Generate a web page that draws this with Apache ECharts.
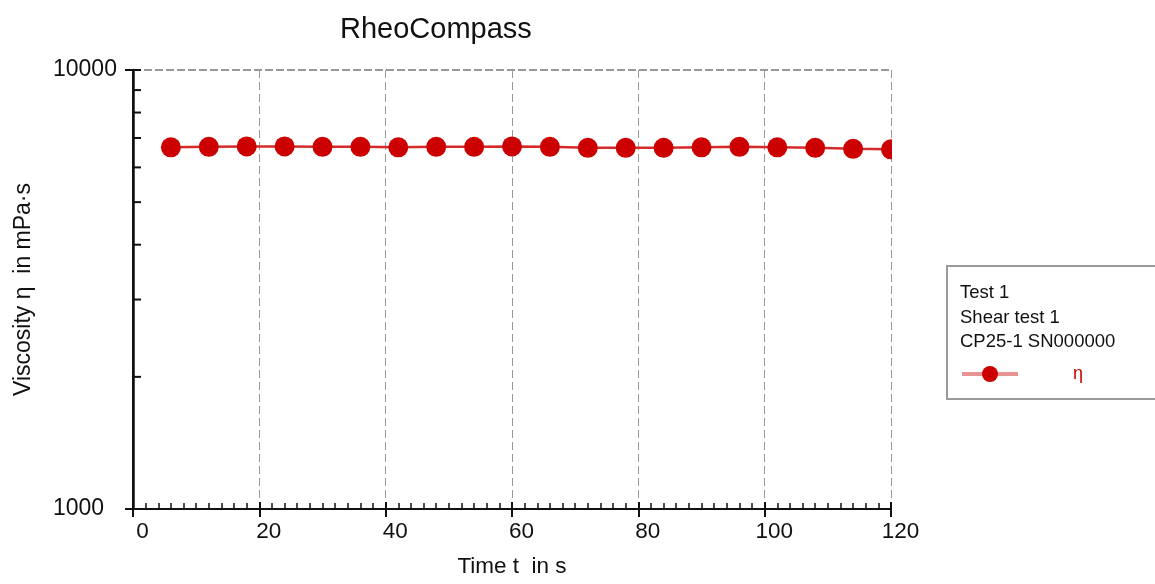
<!DOCTYPE html>
<html>
<head>
<meta charset="utf-8">
<script src="https://cdn.jsdelivr.net/npm/echarts@6/dist/echarts.min.js"></script>
<style>
  html, body { margin: 0; padding: 0; background: #fff; }
  #chart { width: 1155px; height: 584px; }
</style>
</head>
<body>
<div id="chart"></div>
<script>
// time in s
const times = [6, 12, 18, 24, 30, 36, 42, 48, 54, 60, 66, 72, 78, 84, 90, 96, 102, 108, 114, 120];
// viscosity in mPa·s
const viscosity = [6665, 6682, 6699, 6699, 6682, 6682, 6665, 6682, 6682, 6699,
                   6682, 6647, 6647, 6647, 6665, 6682, 6665, 6647, 6612, 6595];
// y tick positions (log axis, 1 decade)
const yTickValues = [1000, 2000, 3000, 4000, 5000, 6000, 7000, 8000, 9000, 10000];
const legendLines = ['Test 1', 'Shear test 1', 'CP25-1 SN000000'];

const FONT = 'Liberation Sans, Arial, sans-serif';
const INK = '#111';

let myChart = echarts.init(document.getElementById('chart'));
myChart.setOption({
    animation: false,
    textStyle: { fontFamily: FONT, color: INK },
    title: {
        text: 'RheoCompass',
        left: 335, top: 10,
        textStyle: { fontFamily: FONT, fontSize: 29, fontWeight: 'normal', color: INK }
    },
    legend: {
        data: ['η'],
        left: 955, top: 360,
        itemWidth: 56, itemHeight: 20,
        lineStyle: { width: 4, color: 'rgba(214, 60, 60, 0.55)' },
        textStyle: { fontFamily: FONT, fontSize: 18, color: '#cc0000', padding: [0, 0, 0, 50] }
    },
    grid: { left: 133, right: 264, top: 70, bottom: 75 },
    xAxis: [
        {
            type: 'value', min: 0, max: 120, interval: 20,
            name: 'Time t  in s', nameLocation: 'middle', nameGap: 46,
            nameTextStyle: { fontFamily: FONT, fontSize: 22.5, color: INK },
            axisLine: { onZero: false, lineStyle: { color: INK, width: 2 } },
            axisTick: { inside: true, length: 7, lineStyle: { color: INK, width: 2 } },
            minorTick: { show: true, splitNumber: 10, length: 6, lineStyle: { color: INK, width: 1.5 } },
            axisLabel: { fontFamily: FONT, fontSize: 22.5, color: INK, margin: 11, padding: [0, 0, 0, 19] },
            splitLine: { show: true, lineStyle: { color: '#9a9a9a', type: [8, 4], width: 1 } }
        },
        {
            // outside half of the major x ticks
            type: 'value', min: 0, max: 120, interval: 20, position: 'bottom',
            axisLine: { show: false },
            axisTick: { length: 8, lineStyle: { color: INK, width: 2 } },
            axisLabel: { show: false },
            splitLine: { show: false }
        }
    ],
    yAxis: [
        {
            type: 'log', logBase: 10, min: 1000, max: 10000,
            name: 'Viscosity η  in mPa·s', nameLocation: 'middle', nameGap: 98,
            nameTextStyle: { fontFamily: FONT, fontSize: 23, color: INK },
            axisLine: { lineStyle: { color: INK, width: 2 } },
            axisTick: { length: 8, lineStyle: { color: INK, width: 2 } },
            axisLabel: {
                fontFamily: FONT, fontSize: 23, color: INK, margin: 80, align: 'left',
                padding: [5, 0, 0, 0],
                formatter: v => String(v)
            },
            splitLine: { show: true, lineStyle: { color: '#777', type: [8, 3], width: 1.5 } }
        },
        {
            // right frame line
            type: 'log', logBase: 10, min: 1000, max: 10000, position: 'right',
            axisLine: { lineStyle: { color: INK, width: 2.5 } },
            axisTick: { show: false },
            axisLabel: { show: false },
            splitLine: { show: false }
        }
    ],
    graphic: [
        {
            // legend frame
            type: 'rect', left: 946, top: 265, z: 0,
            shape: { width: 230, height: 133 },
            style: { fill: '#fff', stroke: '#9a9a9a', lineWidth: 2 }
        },
        {
            type: 'text', left: 960, top: 281, z: 1,
            style: { text: legendLines.join('\n'), font: '18.5px ' + FONT, fill: INK, lineHeight: 24.5 }
        },
        {
            // clip the half of the last marker beyond the frame
            type: 'rect', left: 892, top: 120, z: 100,
            shape: { width: 40, height: 60 },
            style: { fill: '#fff' }
        }
    ],
    series: [
        {
            name: 'η',
            type: 'line',
            data: times.map((t, i) => [t, viscosity[i]]),
            symbol: 'circle',
            symbolSize: 20,
            itemStyle: { color: '#cc0000' },
            lineStyle: { color: '#d42a2a', width: 2.5 },
            z: 3
        },
        {
            // inside ticks of the y axis at 1000, 2000, ... 10000
            name: 'yticks',
            type: 'custom',
            silent: true,
            z: 5,
            data: yTickValues.map(v => [0, v]),
            renderItem: function (params, api) {
                let p = api.coord([api.value(0), api.value(1)]);
                return {
                    type: 'line',
                    shape: { x1: p[0], y1: p[1], x2: p[0] + 8, y2: p[1] },
                    style: { stroke: INK, lineWidth: 2 }
                };
            }
        }
    ]
});
</script>
</body>
</html>
